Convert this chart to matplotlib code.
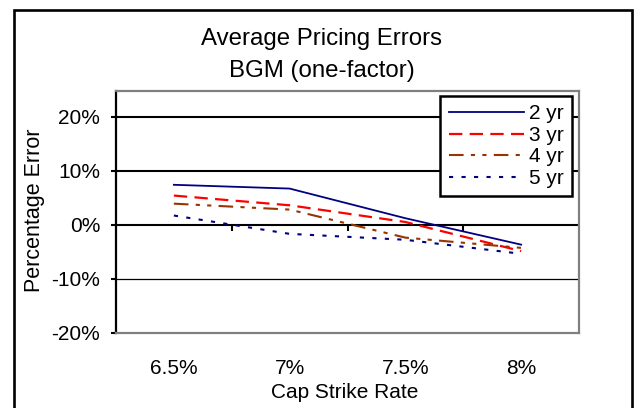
import matplotlib
matplotlib.use("Agg")
import matplotlib.pyplot as plt
from matplotlib.patches import Rectangle

plt.rcParams['font.family'] = ['Liberation Sans', 'DejaVu Sans']

categories = ["6.5%", "7%", "7.5%", "8%"]
series_names = ["2 yr", "3 yr", "4 yr", "5 yr"]
yr2 = [7.4, 6.7, 1.2, -3.7]
yr3 = [5.4, 3.6, 0.5, -4.9]
yr4 = [3.9, 2.8, -2.4, -4.3]
yr5 = [1.7, -1.7, -2.8, -5.4]
yticks = [-20, -10, 0, 10, 20]
ytick_labels = ["-20%", "-10%", "0%", "10%", "20%"]

W, H = 639, 408
fig = plt.figure(figsize=(W / 100, H / 100), dpi=100)
fig.patch.set_facecolor("white")

L, R, T, B = 116, 579, 91, 332.5
ax = fig.add_axes([L / W, (H - B) / H, (R - L) / W, (B - T) / H])

x = list(range(len(categories)))
styles = [
    dict(color="#000080", lw=1.3, ls="-"),
    dict(color="#FF0000", lw=1.6, ls=(0, (6, 3.3))),
    dict(color="#993300", lw=1.5, ls=(0, (7, 3.5, 2, 3.5, 2, 3.5))),
    dict(color="#000080", lw=1.5, ls=(0, (2, 4))),
]
for vals, name, st in zip([yr2, yr3, yr4, yr5], series_names, styles):
    ax.plot(x, vals, label=name, color=st["color"], lw=st["lw"],
            linestyle=st["ls"], dash_capstyle="butt", zorder=3)

ax.set_xlim(-0.5, len(categories) - 0.5)
ax.set_ylim(-20, 24.8)

ax.set_yticks(yticks)
ax.set_yticklabels(ytick_labels, fontsize=15)
ax.tick_params(axis="y", direction="out", length=3.8, width=1.5, color="black", pad=7.5)

ax.set_xticks(x)
ax.set_xticklabels(categories, fontsize=15)
ax.tick_params(axis="x", length=0, pad=19)

# horizontal gridlines
ax.yaxis.grid(True, color="black", lw=1.5, zorder=1)
ax.set_axisbelow(True)
for val, gl in zip(yticks, ax.get_ygridlines()):
    if val == -20:
        gl.set_visible(False)
    elif val == -10:
        gl.set_linewidth(0.9)

# category separator ticks on the zero line
ax.vlines([i + 0.5 for i in x[:-1]], -1.2, 0, color="black", lw=1.5, zorder=2)

for side in ["top", "right", "bottom"]:
    ax.spines[side].set_color("#808080")
    ax.spines[side].set_linewidth(1.6)
ax.spines["left"].set_color("black")
ax.spines["left"].set_linewidth(1.6)

ax.set_xlabel("Cap Strike Rate", fontsize=15)
ax.xaxis.set_label_coords((344.5 - L) / (R - L), (B - 392) / (B - T))
ax.xaxis.label.set_va("center")
ax.set_ylabel("Percentage Error", fontsize=15.5)
ax.yaxis.set_label_coords((35 - L) / (R - L), (B - 210) / (B - T))
ax.yaxis.label.set_va("center")

fig.text(321.7 / W, (H - 55.1) / H, "Average Pricing Errors\nBGM (one-factor)",
         ha="center", va="center", fontsize=17.3, linespacing=1.62)

leg = ax.legend(loc="upper right",
                bbox_to_anchor=((572 - L) / (R - L), (B - 96) / (B - T)),
                borderaxespad=0, fontsize=15, labelspacing=0.12,
                handlelength=3.6, handletextpad=0.25, borderpad=0.4,
                fancybox=False, framealpha=1, edgecolor="black")
leg.get_frame().set_linewidth(1.8)
leg.set_zorder(5)

fig.add_artist(Rectangle((13.5 / W, -0.05), (631.5 - 13.5) / W, (H - 9.5) / H + 0.05,
                         transform=fig.transFigure, fill=False, edgecolor="black",
                         lw=1.9, clip_on=False))

fig.savefig("out.png", dpi=100)
